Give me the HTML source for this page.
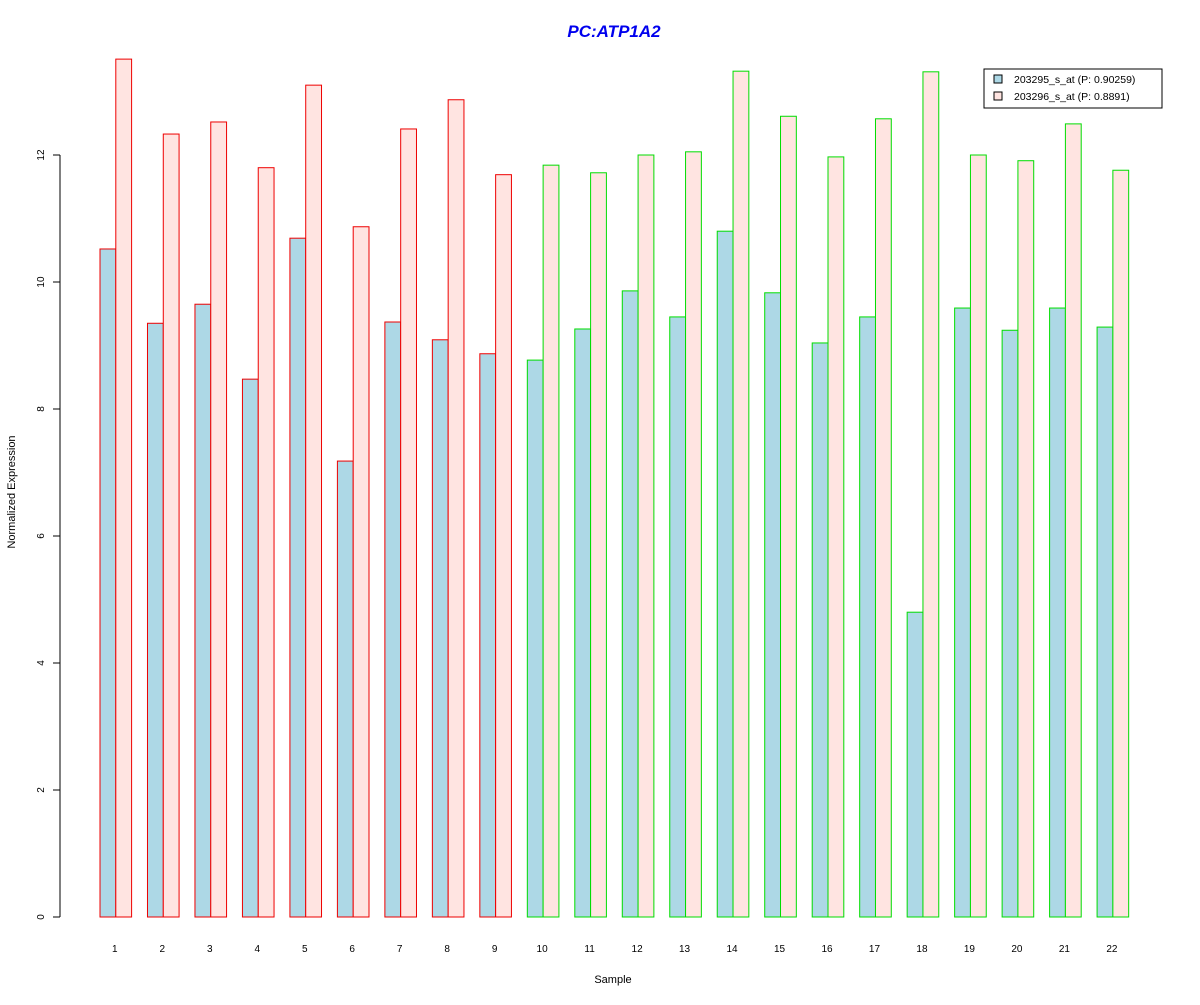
<!DOCTYPE html>
<html><head><meta charset="utf-8"><style>
body{margin:0;background:#fff}
svg text{font-family:"Liberation Sans",sans-serif}
</style></head><body>
<svg id="chart" width="1200" height="1000" xmlns="http://www.w3.org/2000/svg">
<rect width="1200" height="1000" fill="#fff"/>
<text x="614" y="37" text-anchor="middle" font-size="17" font-weight="bold" font-style="italic" fill="#0000ee">PC:ATP1A2</text>
<g id="bars"></g>
<g id="yaxis"></g>
<g id="xaxis"></g>
<text x="613" y="983" text-anchor="middle" font-size="11">Sample</text>
<text transform="translate(15,492) rotate(-90)" text-anchor="middle" font-size="11">Normalized Expression</text>
<g>
<rect x="984" y="69" width="178" height="39" fill="#fff" stroke="#000"/>
<g><rect x="994" y="75" width="8" height="8" fill="#add8e6" stroke="#000"/><text x="1014" y="83" font-size="10.5">203295_s_at (P: 0.90259)</text></g>
<g><rect x="994" y="92" width="8" height="8" fill="#ffe4e1" stroke="#000"/><text x="1014" y="100" font-size="10.5">203296_s_at (P: 0.8891)</text></g>
</g>
</svg>
<script>
const categories=["1","2","3","4","5","6","7","8","9","10","11","12","13","14","15","16","17","18","19","20","21","22"];
const series1=[10.52,9.35,9.65,8.47,10.69,7.18,9.37,9.09,8.87,8.77,9.26,9.86,9.45,10.80,9.83,9.04,9.45,4.80,9.59,9.24,9.59,9.29];
const series2=[13.51,12.33,12.52,11.80,13.10,10.87,12.41,12.87,11.69,11.84,11.72,12.0,12.05,13.32,12.61,11.97,12.57,13.31,12.0,11.91,12.49,11.76];
const groups=["PC","PC","PC","PC","PC","PC","PC","PC","PC","N","N","N","N","N","N","N","N","N","N","N","N","N"];
const yTicks=[0,2,4,6,8,10,12];
const NS="http://www.w3.org/2000/svg";
const y=v=>917-v*63.5;
const x0=i=>100+i*47.48;
const bw=15.8;
function mk(t,a,p){const e=document.createElementNS(NS,t);for(const k in a)e.setAttribute(k,a[k]);p.appendChild(e);return e;}
const bars=document.getElementById('bars');
categories.forEach((c,i)=>{
 const col=groups[i]==="PC"?"#ee0000":"#00dd00";
 const r1=mk('rect',{x:x0(i),y:y(series1[i]),width:bw,height:y(0)-y(series1[i]),fill:"#add8e6",stroke:col},bars);
 
 
 const r2=mk('rect',{x:x0(i)+bw,y:y(series2[i]),width:bw,height:y(0)-y(series2[i]),fill:"#ffe4e1",stroke:col},bars);
 
 
 const t=mk('text',{x:x0(i)+bw-1,y:952,'text-anchor':'middle','font-size':10},document.getElementById('xaxis'));
 t.textContent=c;
 
 
});
const ya=document.getElementById('yaxis');
mk('line',{x1:60,x2:60,y1:y(yTicks[0]),y2:y(yTicks[yTicks.length-1]),stroke:"#000"},ya);
yTicks.forEach(v=>{
 mk('line',{x1:53,x2:60,y1:y(v),y2:y(v),stroke:"#000"},ya);
 const t=mk('text',{transform:`translate(44,${y(v)}) rotate(-90)`,'text-anchor':'middle','font-size':10},ya);
 t.textContent=v;
 
 
});
</script>
</body></html>
